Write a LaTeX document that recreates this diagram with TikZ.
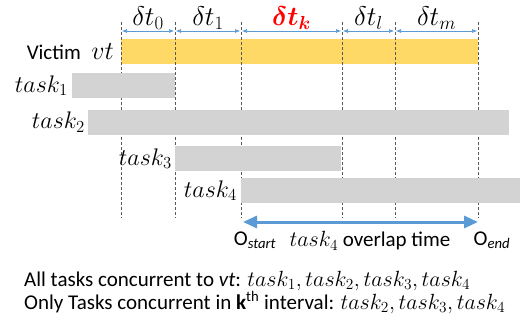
\RequirePackage{fix-cm}
\documentclass[tikz,border=0pt]{standalone}
\usepackage{amsmath}
\usepackage{bm}
\usepackage{fontspec}
\setmainfont{Carlito}
\usetikzlibrary{arrows.meta, positioning}

\definecolor{vtyellow}{HTML}{FFD966}
\definecolor{taskgray}{HTML}{D3D3D3}
\definecolor{dimblue}{HTML}{5B9BD5}

\begin{document}
\begin{tikzpicture}[x=1pt, y=-1pt,
    bar/.style={draw=none, minimum height=25pt, inner sep=0pt, anchor=west},
    taskbar/.style={bar, fill=taskgray},
    tickline/.style={densely dashed, gray!70!black, line width=0.6pt},
    dimline/.style={{Latex[length=5pt,width=4pt]}-{Latex[length=5pt,width=4pt]},
                    dimblue, line width=0.6pt, shorten <=1pt, shorten >=1pt},
    mlabel/.style={font=\fontsize{24}{26}\selectfont, text=black, inner sep=1pt},
    dlabel/.style={mlabel, font=\fontsize{27}{29}\selectfont},
    txt/.style={font=\fontsize{21}{24}\selectfont, inner sep=1pt}]
    \useasboundingbox (0,0) rectangle (520,327);

    % victim bar sits under the interval lines
    \node[bar, fill=vtyellow, minimum width=357pt] (vt) at (121,51.5) {};

    \foreach \x [count=\i from 0] in {121,175,241,342,395,478} {
        \coordinate (top\i) at (\x,22);
        \coordinate (bot\i) at (\x,218);
        \coordinate (d\i) at (\x,31);
        \draw[tickline] (top\i) -- (bot\i);
    }

    % interval widths
    \draw[dimline] (d0) -- node[dlabel, above] {$\delta t_0$} (d1);
    \draw[dimline] (d1) -- node[dlabel, above] {$\delta t_1$} (d2);
    \draw[dimline] (d2) -- node[dlabel, above, text=red] {$\bm{\delta t_k}$} (d3);
    \draw[dimline] (d3) -- node[dlabel, above] {$\delta t_l$} (d4);
    \draw[dimline] (d4) -- node[dlabel, above] {$\delta t_m$} (d5);

    % tasks
    \node[taskbar, minimum width=103pt] (task1) at (72,85.5) {};
    \node[taskbar, minimum width=421pt] (task2) at (88,122) {};
    \node[taskbar, minimum width=166pt] (task3) at (175,158.5) {};
    \node[taskbar, minimum width=279pt] (task4) at (241,190.5) {};

    \node[txt, left=6pt of vt] (vtlbl) {Victim\enspace{\fontsize{26}{28}\selectfont$vt$}};
    \node[mlabel, left=3pt of task1] (t1lbl) {$task_1$};
    \node[mlabel, left=2pt of task2] (t2lbl) {$task_2$};
    \node[mlabel, left=2pt of task3] (t3lbl) {$task_3$};
    \node[mlabel, left=3pt of task4] (t4lbl) {$task_4$};

    % overlap of task 4 with the victim
    \coordinate (ov0) at (243,222);
    \coordinate (ov1) at (478,222);
    \draw[{Triangle[length=14pt,width=12pt]}-{Triangle[length=14pt,width=12pt]},
          dimblue, line width=3pt] (ov0) -- (ov1);
    \node[txt] (ostart) at (255,240) {O\textsubscript{\textit{start}}};
    \node[txt] (oend) at (492,240) {O\textsubscript{\textit{end}}};
    \node[txt] (ovlbl) at (370,241) {{\fontsize{22}{24}\selectfont$task_4$} overlap time};

    \node[txt, font=\fontsize{21}{19}\selectfont, align=left, anchor=north west] (summary) at (23,270)
        {All tasks concurrent to \textit{vt}: {\fontsize{22}{24}\selectfont$task_1, task_2, task_3, task_4$}\\
         Only Tasks concurrent in \textbf{k}\textsuperscript{th} interval: {\fontsize{22}{24}\selectfont$task_2, task_3, task_4$}};
\end{tikzpicture}
\end{document}
